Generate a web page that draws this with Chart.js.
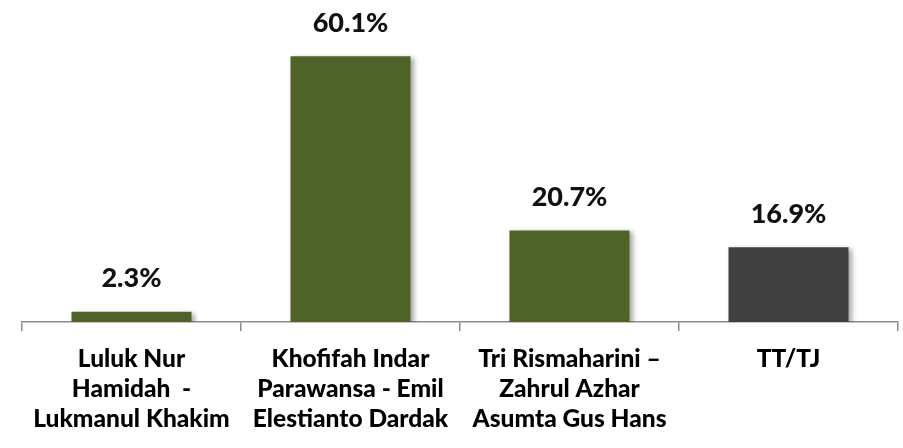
<!DOCTYPE html>
<html>
<head>
<meta charset="utf-8">
<script src="https://cdn.jsdelivr.net/npm/chart.js"></script>
<style>
  html, body { margin: 0; padding: 0; background: #fff; }
  #wrap { width: 903px; height: 448px; position: relative; }
</style>
</head>
<body>
<div id="wrap"><canvas id="chart"></canvas></div>
<script>
// Data
const categories = [
    ['Luluk Nur', 'Hamidah  -', 'Lukmanul Khakim'],
    ['Khofifah Indar', 'Parawansa - Emil', 'Elestianto Dardak'],
    ['Tri Rismaharini \u2013', 'Zahrul Azhar', 'Asumta Gus Hans'],
    ['TT/TJ']
];
const values = [2.3, 60.1, 20.7, 16.9];
const barColors = ['#4f6228', '#4f6228', '#4f6228', '#404040'];

// value labels above the bars
const valueLabels = {
    id: 'valueLabels',
    afterDatasetsDraw(chart) {
        const ctx = chart.ctx;
        const meta = chart.getDatasetMeta(0);
        ctx.save();
        ctx.font = '900 27px Lato';
        ctx.fillStyle = '#111';
        ctx.textAlign = 'center';
        ctx.textBaseline = 'middle';
        meta.data.forEach((bar, i) => {
            ctx.fillText(values[i].toFixed(1) + '%', bar.x, bar.y - 33);
        });
        ctx.restore();
    }
};

// light shadow like the original
const barShadow = {
    id: 'barShadow',
    beforeDatasetDraw(chart) {
        const ctx = chart.ctx;
        ctx.save();
        ctx.shadowColor = 'rgba(0,0,0,0.35)';
        ctx.shadowBlur = 5;
        ctx.shadowOffsetX = 3;
        ctx.shadowOffsetY = 2;
    },
    afterDatasetDraw(chart) {
        chart.ctx.restore();
    }
};

new Chart(document.getElementById('chart'), {
    type: 'bar',
    data: {
        labels: categories,
        datasets: [{
            data: values,
            backgroundColor: barColors,
            borderWidth: 0,
            categoryPercentage: 1,
            barPercentage: 0.548
        }]
    },
    options: {
        responsive: true,
        maintainAspectRatio: false,
        animation: false,
        layout: {
            padding: { left: 22, right: 5, top: 20, bottom: 1 }
        },
        scales: {
            y: {
                display: false,
                min: 0,
                max: 68.3
            },
            x: {
                grid: {
                    drawOnChartArea: false,
                    drawTicks: true,
                    tickLength: 9,
                    color: '#8c8c8c',
                    lineWidth: 1.5
                },
                border: { color: '#8c8c8c', width: 1.5 },
                ticks: {
                    color: '#000',
                    font: { family: 'Lato', size: 24.5, weight: '900', lineHeight: 1.225 },
                    padding: 13,
                    maxRotation: 0,
                    autoSkip: false
                }
            }
        },
        plugins: {
            legend: { display: false },
            tooltip: { enabled: false }
        }
    },
    plugins: [barShadow, valueLabels]
});
</script>
</body>
</html>
